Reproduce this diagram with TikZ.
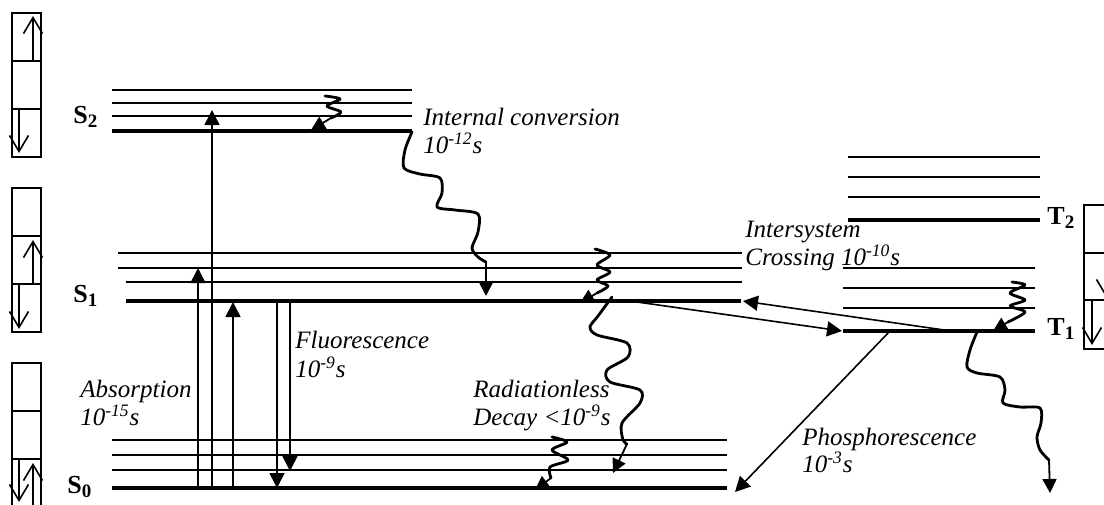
\documentclass[tikz,border=0pt]{standalone}
\usepackage{fontspec}
\setmainfont{Liberation Serif}
\usetikzlibrary{arrows.meta}
\newcommand{\lvsub}[1]{\raisebox{-2pt}{\fontsize{9.5}{10}\selectfont\bfseries #1}}
\begin{document}
\begin{tikzpicture}[x=0.5pt,y=-0.5pt,
  vib/.style={line width=0.9pt},
  gnd/.style={line width=2.1pt},
  ray/.style={line width=0.8pt,-{Triangle[length=7.5pt,width=7.5pt]}},
  wav/.style={line width=1.4pt,line cap=round,line join=round},
  hook/.style={line width=0.9pt,-{Triangle[length=7pt,width=7pt]}},
  spin/.style={line width=0.8pt,-{Straight Barb[length=8pt,width=9.5pt]}},
  cell/.style={line width=1pt},
  txt/.style={font=\fontsize{12.5}{14}\selectfont\itshape,anchor=base west,inner sep=0pt},
  stl/.style={font=\fontsize{13}{14}\selectfont\bfseries,anchor=base west,inner sep=0pt}]
\useasboundingbox (0,0) rectangle (1104,504);
\clip (0,0) rectangle (1104,504);
\fill[white] (0,0) rectangle (1104,504);

% spin boxes
\foreach \y in {13,188,363} {
  \draw[cell] (12,\y) rectangle (41,\y+144);
  \draw[cell] (12,\y+48) -- (41,\y+48) (12,\y+96) -- (41,\y+96);
}
\draw[cell] (1084,205) rectangle (1113,349);
\draw[cell] (1084,253) -- (1113,253) (1084,300) -- (1113,300);
\draw[spin] (33,61) -- (33,16);
\draw[spin] (19,108) -- (19,153);
\draw[spin] (33,284) -- (33,240);
\draw[spin] (19,284) -- (19,329);
\draw[spin] (19,459) -- (19,502);
\draw[spin] (33,507) -- (33,463);
\draw[spin] (1092,300) -- (1092,345);
\draw[spin] (1106,253) -- (1106,297);

% energy levels
\foreach \y in {90,103,116} \draw[vib] (112,\y) -- (412,\y);
\draw[gnd] (112,131) coordinate (S2L) -- (412,131) coordinate (S2R);
\foreach \y in {253,268} \draw[vib] (118,\y) -- (742,\y);
\draw[vib] (126,282) -- (742,282);
\draw[gnd] (126,301) coordinate (S1L) -- (741,301) coordinate (S1R);
\foreach \y in {440,455,470} \draw[vib] (112,\y) -- (727,\y);
\draw[gnd] (112,488) coordinate (S0L) -- (727,488) coordinate (S0R);
\foreach \y in {157,177,197} \draw[vib] (848,\y) -- (1040,\y);
\draw[gnd] (848,220) coordinate (T2L) -- (1040,220) coordinate (T2R);
\foreach \y in {268,288,308} \draw[vib] (843,\y) -- (1035,\y);
\draw[gnd] (843,331) coordinate (T1L) -- (1035,331) coordinate (T1R);

% level labels
\node[stl] (lS2) at (73,123) {S\lvsub{2}};
\node[stl] (lS1) at (73,302) {S\lvsub{1}};
\node[stl] (lS0) at (67,493) {S\lvsub{0}};
\node[stl] (lT2) at (1047,224) {T\lvsub{2}};
\node[stl] (lT1) at (1047,335) {T\lvsub{1}};

% texts
\node[txt] (ic1) at (423,125) {Internal conversion};
\node[txt] (ic2) at (423,153) {10\textsuperscript{-12}s};
\node[txt] (isc1) at (745,237) {Intersystem};
\node[txt] (isc2) at (745,265) {Crossing 10\textsuperscript{-10}s};
\node[txt] (fl1) at (295,348) {Fluorescence};
\node[txt] (fl2) at (295,377) {10\textsuperscript{-9}s};
\node[txt] (ab1) at (80,397) {Absorption};
\node[txt] (ab2) at (80,425) {10\textsuperscript{-15}s};
\node[txt] (rd1) at (473,397) {Radiationless};
\node[txt] (rd2) at (473,425) {Decay <10\textsuperscript{-9}s};
\node[txt] (ph1) at (802,445) {Phosphorescence};
\node[txt] (ph2) at (802,472) {10\textsuperscript{-3}s};

% absorption and fluorescence
\coordinate (a1s) at (198,489); \coordinate (a1e) at (198,268);
\coordinate (a2s) at (212,489); \coordinate (a2e) at (212,110);
\coordinate (a3s) at (233,489); \coordinate (a3e) at (233,302);
\coordinate (f1s) at (277,301); \coordinate (f1e) at (277,488);
\coordinate (f2s) at (290,301); \coordinate (f2e) at (290,471);
\draw[ray] (a1s) -- (a1e);
\draw[ray] (a2s) -- (a2e);
\draw[ray] (a3s) -- (a3e);
\draw[ray] (f1s) -- (f1e);
\draw[ray] (f2s) -- (f2e);

% intersystem crossing and phosphorescence
\coordinate (x1s) at (630,301); \coordinate (x1e) at (842,331);
\coordinate (x2s) at (951,331); \coordinate (x2e) at (743,301);
\coordinate (ps) at (890,331); \coordinate (pe) at (735,492);
\draw[ray] (x1s) -- (x1e);
\draw[ray] (x2s) -- (x2e);
\draw[ray] (ps) -- (pe);

% internal conversion S2 -> S1
\coordinate (w1s) at (412,132); \coordinate (w1e) at (486,262); \coordinate (w1t) at (486,296);
\draw[wav] plot[smooth] coordinates {(w1s) (405,150) (404,168) (420,174) (440,178) (442,193) (437,207) (455,210) (478,214) (478,232) (472,248) (478,257) (w1e)};
\draw[hook] (w1e) -- (w1t);

% radiationless decay S1 -> S0
\coordinate (w2s) at (612,297); \coordinate (w2e) at (627,444); \coordinate (w2t) at (613,473);
\draw[wav] plot[smooth] coordinates {(w2s) (598,316) (590,327) (597,335) (627,343) (628,357) (607,370) (610,382) (640,390) (640,403) (622,423) (623,440) (w2e)};
\draw[hook] (w2e) -- (w2t);

% T1 -> ground
\coordinate (w3s) at (977,332); \coordinate (w3e) at (1049,460); \coordinate (w3t) at (1050,493);
\draw[wav] plot[smooth] coordinates {(w3s) (970,350) (967,367) (977,373) (1000,377) (1005,390) (1003,403) (1020,407) (1040,408) (1041,423) (1037,437) (1040,450) (w3e)};
\draw[hook] (w3e) -- (w3t);

% vibrational relaxation squiggles
\coordinate (v1s) at (325,96); \coordinate (v1e) at (331,118); \coordinate (v1t) at (311,130);
\draw[wav] plot[smooth] coordinates {(v1s) (340,99) (327,106) (341,112) (v1e)};
\draw[hook] (v1e) -- (v1t);
\coordinate (v2s) at (595,249); \coordinate (v2e) at (597,293); \coordinate (v2t) at (580,303);
\draw[wav] plot[smooth] coordinates {(v2s) (610,255) (597,265) (610,272) (597,280) (608,286) (v2e)};
\draw[hook] (v2e) -- (v2t);
\coordinate (v3s) at (552,437); \coordinate (v3e) at (551,478); \coordinate (v3t) at (535,490);
\draw[wav] plot[smooth] coordinates {(v3s) (567,442) (552,450) (568,460) (550,467) (v3e)};
\draw[hook] (v3e) -- (v3t);
\coordinate (v4s) at (1012,282); \coordinate (v4e) at (1008,322); \coordinate (v4t) at (993,331);
\draw[wav] plot[smooth] coordinates {(v4s) (1025,285) (1010,293) (1025,300) (1010,306) (1025,312) (v4e)};
\draw[hook] (v4e) -- (v4t);
\end{tikzpicture}
\end{document}
